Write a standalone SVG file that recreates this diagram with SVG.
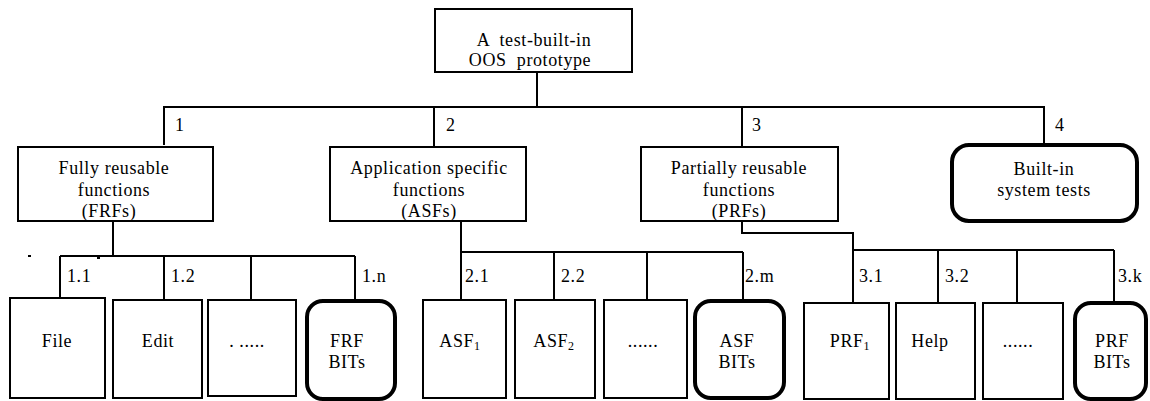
<svg xmlns="http://www.w3.org/2000/svg" width="1150" height="401" viewBox="0 0 1150 401">
<style>
text{font-family:'Liberation Serif',serif;font-size:18px;letter-spacing:0.6px;fill:#000}
.t{text-anchor:middle}
.box{fill:#fff;stroke:#000;stroke-width:2}
.bit{fill:#fff;stroke:#000;stroke-width:4}
.con{fill:none;stroke:#000;stroke-width:2}
.sub{font-size:12px}
</style>
<rect width="1150" height="401" fill="#fff"/>
<g font-family="'Liberation Serif', serif" font-size="18">
<g id="connectors">
<path class="con" d="M537 72V107M164 145V107H1044V145M434 107V147M742 107V147"/>
<path class="con" d="M113 221V256M60 256H355M60 256V300M164 256V300M251 256V300M355 256V300"/>
<path class="con" d="M461 221V252M461 252H743M461 252V300M554 252V300M647 252V300M743 252V300"/>
<path class="con" d="M742 221V233H853V250M853 250H1114M853 250V303M938 250V303M1017 250V303M1114 250V303"/>
<path class="con" d="M28 256H31M97 258H100"/>
<text x="175" y="131">1</text>
<text x="446" y="131">2</text>
<text x="752" y="131">3</text>
<text x="1055" y="131">4</text>
<text x="67" y="282">1.1</text>
<text x="171" y="282">1.2</text>
<text x="362" y="282">1.n</text>
<text x="465" y="282">2.1</text>
<text x="561" y="282">2.2</text>
<text x="745" y="282">2.m</text>
<text x="859" y="282">3.1</text>
<text x="945" y="282">3.2</text>
<text x="1118" y="282">3.k</text>
</g>
<g id="root">
<rect class="box" x="435" y="9" width="197" height="63"/>
<text class="t" x="534" y="46" xml:space="preserve">A  test-built-in</text>
<text class="t" x="530" y="66" xml:space="preserve">OOS  prototype</text>
</g>
<g id="frf">
<rect class="box" x="18" y="147" width="195" height="74"/>
<text class="t" x="114" y="174">Fully reusable</text>
<text class="t" x="114" y="196">functions</text>
<text class="t" x="109" y="217">(FRFs)</text>
</g>
<g id="asf">
<rect class="box" x="330" y="147" width="196" height="74"/>
<text class="t" x="429" y="174">Application specific</text>
<text class="t" x="429" y="196">functions</text>
<text class="t" x="429" y="217">(ASFs)</text>
</g>
<g id="prf">
<rect class="box" x="641" y="147" width="197" height="74"/>
<text class="t" x="739" y="174">Partially reusable</text>
<text class="t" x="739" y="196">functions</text>
<text class="t" x="739" y="217">(PRFs)</text>
</g>
<g id="bist">
<rect class="bit" x="952" y="145" width="185" height="76" rx="17"/>
<text class="t" x="1044" y="175">Built-in</text>
<text class="t" x="1044" y="196">system tests</text>
</g>
<g id="file">
<rect class="box" x="10" y="298" width="95" height="100"/>
<text class="t" x="57" y="347">File</text>
</g>
<g id="edit">
<rect class="box" x="113" y="300" width="89" height="98"/>
<text class="t" x="158" y="347">Edit</text>
</g>
<g id="frf-more">
<rect class="box" x="208" y="300" width="88" height="96"/>
<text class="t" x="247" y="347">. .....</text>
</g>
<g id="frf-bits">
<rect class="bit" x="307" y="301" width="88" height="98" rx="16"/>
<text class="t" x="347" y="347">FRF</text>
<text class="t" x="347" y="368">BITs</text>
</g>
<g id="asf1">
<rect class="box" x="423" y="300" width="83" height="98"/>
<text class="t" x="460" y="347">ASF<tspan class="sub" dy="3">1</tspan></text>
</g>
<g id="asf2">
<rect class="box" x="515" y="300" width="80" height="98"/>
<text class="t" x="554" y="347">ASF<tspan class="sub" dy="3">2</tspan></text>
</g>
<g id="asf-more">
<rect class="box" x="604" y="300" width="83" height="98"/>
<text class="t" x="643" y="347">......</text>
</g>
<g id="asf-bits">
<rect class="bit" x="695" y="301" width="89" height="97" rx="16"/>
<text class="t" x="737" y="347">ASF</text>
<text class="t" x="737" y="368">BITs</text>
</g>
<g id="prf1">
<rect class="box" x="804" y="303" width="85" height="96"/>
<text class="t" x="850" y="347">PRF<tspan class="sub" dy="3">1</tspan></text>
</g>
<g id="help">
<rect class="box" x="896" y="303" width="79" height="96"/>
<text class="t" x="930" y="347">Help</text>
</g>
<g id="prf-more">
<rect class="box" x="983" y="303" width="80" height="96"/>
<text class="t" x="1018" y="347">......</text>
</g>
<g id="prf-bits">
<rect class="bit" x="1075" y="303" width="71" height="96" rx="16"/>
<text class="t" x="1112" y="347">PRF</text>
<text class="t" x="1112" y="368">BITs</text>
</g>
</g>
</svg>
